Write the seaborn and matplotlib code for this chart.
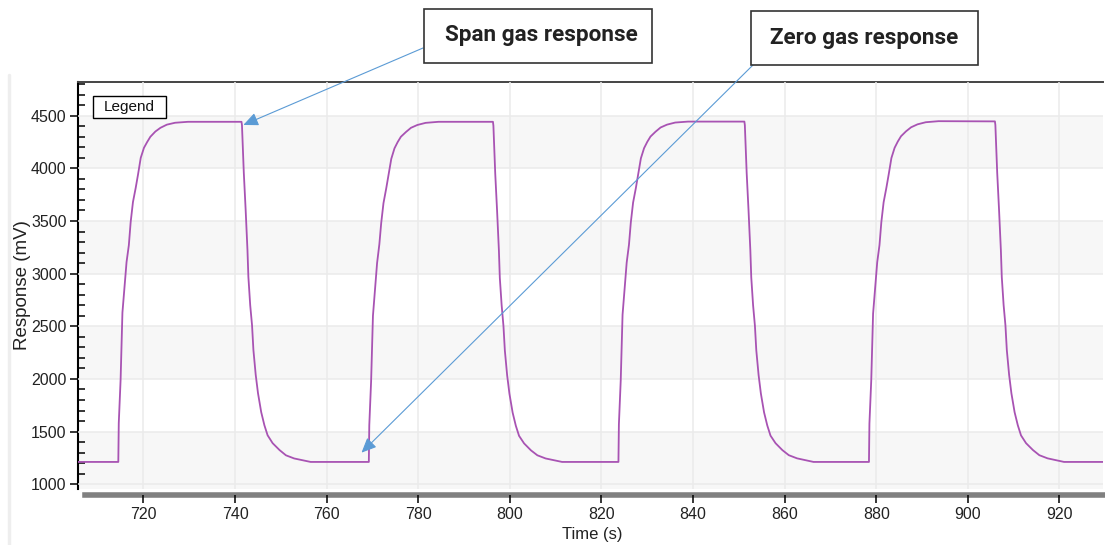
import numpy as np
import pandas as pd
import matplotlib
matplotlib.use("Agg")
import matplotlib.pyplot as plt
from matplotlib.ticker import MultipleLocator
from matplotlib.patches import Rectangle
from matplotlib.lines import Line2D
import seaborn as sns

# ---------------- data ----------------
time_s = [
    705.0, 714.5,
    # cycle 1 rise
    714.6, 715.0, 715.4, 715.9, 716.3, 716.8, 717.2, 717.7, 718.3, 718.8,
    719.4, 720.1, 720.8, 721.5, 722.6, 723.7, 725.1, 726.9, 729.7, 741.4,
    # cycle 1 fall
    741.5, 741.9, 742.3, 742.7, 742.9, 743.3, 743.7, 744.0, 744.5, 745.0,
    745.7, 746.4, 747.1, 748.2, 749.7, 751.1, 752.9, 756.5, 769.2,
    # cycle 2 rise
    769.3, 769.7, 770.1, 770.6, 771.0, 771.5, 771.9, 772.4, 773.0, 773.5,
    774.1, 774.8, 775.5, 776.2, 777.3, 778.4, 779.8, 781.6, 784.4, 796.3,
    # cycle 2 fall
    796.4, 796.8, 797.2, 797.6, 797.8, 798.2, 798.6, 798.9, 799.4, 799.9,
    800.6, 801.3, 802.0, 803.1, 804.6, 806.0, 807.8, 811.4, 823.7,
    # cycle 3 rise
    823.8, 824.2, 824.6, 825.1, 825.5, 826.0, 826.4, 826.9, 827.5, 828.0,
    828.6, 829.3, 830.0, 830.7, 831.8, 832.9, 834.3, 836.1, 838.9, 851.2,
    # cycle 3 fall
    851.3, 851.7, 852.1, 852.5, 852.7, 853.1, 853.5, 853.8, 854.3, 854.8,
    855.5, 856.2, 856.9, 858.0, 859.5, 860.9, 862.7, 866.3, 878.4,
    # cycle 4 rise
    878.5, 878.9, 879.3, 879.8, 880.2, 880.7, 881.1, 881.6, 882.2, 882.7,
    883.3, 884.0, 884.7, 885.4, 886.5, 887.6, 889.0, 890.8, 893.6, 905.9,
    # cycle 4 fall
    906.0, 906.4, 906.8, 907.2, 907.4, 907.8, 908.2, 908.5, 909.0, 909.5,
    910.2, 910.9, 911.6, 912.7, 914.2, 915.6, 917.4, 921.0,
    930.0,
]
response_mv = [
    1212, 1212,
    1580, 1990, 2630, 2890, 3110, 3270, 3490, 3680, 3815, 3940,
    4100, 4195, 4250, 4300, 4350, 4385, 4415, 4433, 4442, 4442,
    4410, 3960, 3610, 3225, 2970, 2700, 2510, 2275, 2040, 1865,
    1685, 1560, 1465, 1390, 1325, 1275, 1245, 1212, 1212,
    1560, 1980, 2600, 2880, 3100, 3280, 3480, 3670, 3810, 3935,
    4090, 4190, 4250, 4300, 4345, 4385, 4412, 4432, 4442, 4442,
    4405, 3950, 3600, 3220, 2960, 2700, 2500, 2270, 2035, 1860,
    1680, 1555, 1460, 1388, 1322, 1275, 1245, 1212, 1212,
    1570, 1985, 2610, 2885, 3105, 3275, 3485, 3675, 3812, 3938,
    4095, 4192, 4252, 4302, 4348, 4388, 4415, 4435, 4444, 4444,
    4410, 3955, 3605, 3222, 2965, 2700, 2505, 2272, 2038, 1862,
    1682, 1558, 1462, 1390, 1324, 1276, 1246, 1212, 1212,
    1575, 1988, 2620, 2888, 3108, 3272, 3488, 3678, 3815, 3940,
    4098, 4195, 4255, 4305, 4352, 4390, 4418, 4438, 4448, 4446,
    4412, 3958, 3608, 3225, 2968, 2702, 2508, 2274, 2040, 1864,
    1684, 1560, 1464, 1390, 1325, 1276, 1246, 1212,
    1212,
]

x_ticks = [720, 740, 760, 780, 800, 820, 840, 860, 880, 900, 920]
y_ticks = [1000, 1500, 2000, 2500, 3000, 3500, 4000, 4500]
shaded_bands = [(1000, 1500), (2000, 2500), (3000, 3500), (4000, 4500)]

span_label = "Span gas response"
zero_label = "Zero gas response"
span_point = (741.8, 4412)
zero_point = (767.6, 1300)

# ---------------- styling ----------------
sns.set_theme(style="whitegrid")
plt.rcParams["font.family"] = ["Liberation Sans", "DejaVu Sans"]

W, H = 1105, 545
fig = plt.figure(figsize=(W / 100, H / 100), dpi=100)
fig.patch.set_facecolor("white")

def fx(px):
    return px / W

def fy(py):
    return (H - py) / H

ax_l, ax_r, ax_t, ax_b = 78, 1103, 82, 489
ax = fig.add_axes([fx(ax_l), fy(ax_b), (ax_r - ax_l) / W, (ax_b - ax_t) / H])
ax.set_facecolor("white")

df = pd.DataFrame({"Time (s)": time_s, "Response (mV)": response_mv})
sns.lineplot(data=df, x="Time (s)", y="Response (mV)", ax=ax,
             color="#a853b3", linewidth=1.3,
             estimator=None, sort=True, zorder=3)

ax.set_xlim(705.7, 929.5)
ax.set_ylim(955, 4820)
ymin = ax.get_ylim()[0]

for lo, hi in shaded_bands:
    ax.axhspan(ymin if lo == 1000 else lo, hi, color="#f7f7f7", lw=0, zorder=0.2)

ax.set_axisbelow(False)
ax.grid(True, which="major", color="#ebebeb", linewidth=1.1)

ax.set_xticks(x_ticks)
ax.set_yticks(y_ticks)
ax.yaxis.set_minor_locator(MultipleLocator(100))

# spines
ax.spines["right"].set_visible(False)
ax.spines["top"].set_visible(True)
ax.spines["top"].set_color("#444444")
ax.spines["top"].set_linewidth(1.4)
ax.spines["left"].set_visible(True)
ax.spines["left"].set_color("black")
ax.spines["left"].set_linewidth(1.5)
ax.spines["bottom"].set_visible(True)
ax.spines["bottom"].set_color("#808080")
ax.spines["bottom"].set_linewidth(4.0)
ax.spines["bottom"].set_position(("outward", 4.0))
ax.spines["bottom"].set_bounds(707.3, 929.5)

ax.tick_params(axis="x", which="major", bottom=True, direction="out",
               length=5.6, width=1.1, color="black", pad=3.5,
               labelsize=11.5, labelcolor="#222222")
ax.tick_params(axis="y", which="major", left=True, direction="out",
               length=5.8, width=1.1, color="black", pad=2.5,
               labelsize=11.5, labelcolor="#222222")
ax.tick_params(axis="y", which="minor", left=True, direction="in",
               length=5.0, width=1.1, color="black")

# minor x ticks sit inside the plot, above the grey bar
sec = ax.secondary_xaxis("bottom")
sec.spines["bottom"].set_visible(False)
sec.xaxis.set_major_locator(MultipleLocator(20))
sec.xaxis.set_minor_locator(MultipleLocator(5))
sec.tick_params(which="major", length=0, labelbottom=False, bottom=True)
sec.tick_params(which="minor", direction="in", length=6.5, width=1.1,
                color="black", bottom=True)

ax.set_xlabel("Time (s)", fontsize=12, color="#222222")
ax.set_ylabel("Response (mV)", fontsize=13.5, color="#222222")
ax.xaxis.set_label_coords(0.5015, -0.093)
ax.yaxis.set_label_coords(-0.046, 0.5)

# "Legend" box
fig.add_artist(Rectangle((fx(93), fy(118)), 73 / W, 22 / H, transform=fig.transFigure,
                         facecolor="white", edgecolor="black", lw=1.0, zorder=5))
fig.text(fx(129.5), fy(107.5), "Legend", ha="center", va="center",
         fontsize=11, color="#111111", zorder=6)

# annotation boxes
ann_font = dict(family=["Roboto", "DejaVu Sans"], weight="bold", fontsize=16.2,
                color="#222222")
fig.add_artist(Rectangle((fx(424), fy(63)), 228 / W, 54 / H, transform=fig.transFigure,
                         facecolor="white", edgecolor="#333333", lw=1.2, zorder=5))
fig.text(fx(541.5), fy(35), span_label, ha="center", va="center", zorder=6, **ann_font)
fig.add_artist(Rectangle((fx(751), fy(65)), 227 / W, 54 / H, transform=fig.transFigure,
                         facecolor="white", edgecolor="#333333", lw=1.2, zorder=5))
fig.text(fx(864.5), fy(38), zero_label, ha="center", va="center", zorder=6, **ann_font)

arrow_kw = dict(arrowstyle="-|>,head_length=0.9,head_width=0.4", color="#5b9bd5",
                lw=0.8, shrinkA=0, shrinkB=0, mutation_scale=10)
ax.annotate("", xy=span_point, xycoords="data",
            xytext=(423, H - 48), textcoords="figure pixels",
            arrowprops=arrow_kw, annotation_clip=False, zorder=7)
ax.annotate("", xy=zero_point, xycoords="data",
            xytext=(753, H - 65), textcoords="figure pixels",
            arrowprops=arrow_kw, annotation_clip=False, zorder=7)

# faint panel edge on the left
fig.add_artist(Line2D([fx(9), fx(9)], [fy(75), 0], transform=fig.transFigure,
                      color="#eeeeee", lw=2.5))

fig.savefig("out.png", dpi=100, facecolor="white")
